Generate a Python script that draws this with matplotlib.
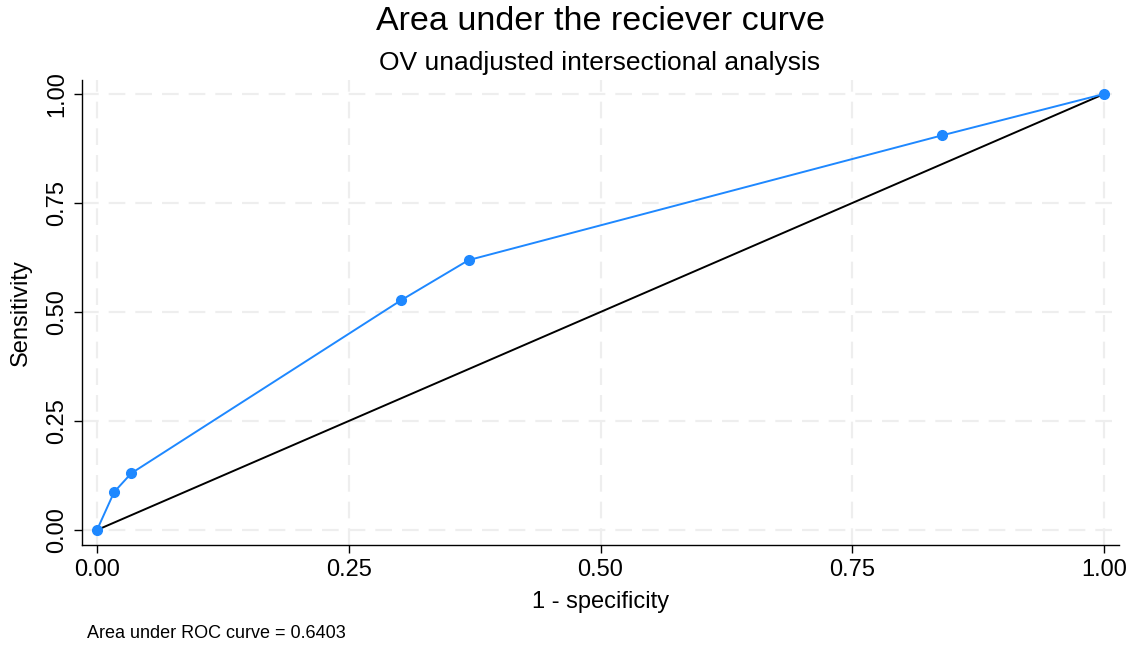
import matplotlib
matplotlib.use("Agg")
import matplotlib.pyplot as plt

plt.rcParams['font.family'] = ['Liberation Sans', 'DejaVu Sans']

fpr = [0.0, 0.017, 0.034, 0.302, 0.369, 0.839, 1.0]
tpr = [0.0, 0.087, 0.130, 0.527, 0.619, 0.905, 1.0]
ref_x = [0.0, 1.0]
ref_y = [0.0, 1.0]
ticks = [0.0, 0.25, 0.50, 0.75, 1.00]
tick_labels = ["0.00", "0.25", "0.50", "0.75", "1.00"]
auc_text = "Area under ROC curve = 0.6403"

fig = plt.figure(figsize=(11.33, 6.46), dpi=100)
ax = fig.add_axes([82/1133, 1-545/646, (1119-82)/1133, (545-80)/646])

ax.set_xlim(-15/1007, 1+15/1007)
ax.set_ylim(-15/436, 1+14/436)

for t in ticks:
    ax.axvline(t, color='#eeeeee', lw=1.6, ls=(0, (7.5, 4.5)), zorder=0)
    ax.axhline(t, color='#eeeeee', lw=1.6, ls=(0, (7.5, 4.5)), zorder=0)

ax.plot(ref_x, ref_y, color='black', lw=1.4, zorder=2)
ax.plot(fpr, tpr, color='#1e88ff', lw=1.4, marker='o', ms=7, zorder=3)

ax.spines['top'].set_visible(False)
ax.spines['right'].set_visible(False)
ax.spines['left'].set_linewidth(1.0)
ax.spines['bottom'].set_linewidth(1.0)

ax.set_xticks(ticks)
ax.set_xticklabels(tick_labels, fontsize=17)
ax.set_yticks(ticks)
ax.set_yticklabels(tick_labels, fontsize=17, rotation=90, va='center')
ax.tick_params(length=6, width=1.0, pad=4)

ax.set_xlabel("1 - specificity", fontsize=17, labelpad=7)
ax.set_ylabel("Sensitivity", fontsize=17, labelpad=10)

fig.text(600/1133, 1-21/646, "Area under the reciever curve", fontsize=24.5, ha='center', va='center')
fig.text(600/1133, 1-63/646, "OV unadjusted intersectional analysis", fontsize=19, ha='center', va='center')
fig.text(87/1133, 1-634/646, auc_text, fontsize=13, ha='left', va='center')

fig.savefig("out.png", dpi=100)
